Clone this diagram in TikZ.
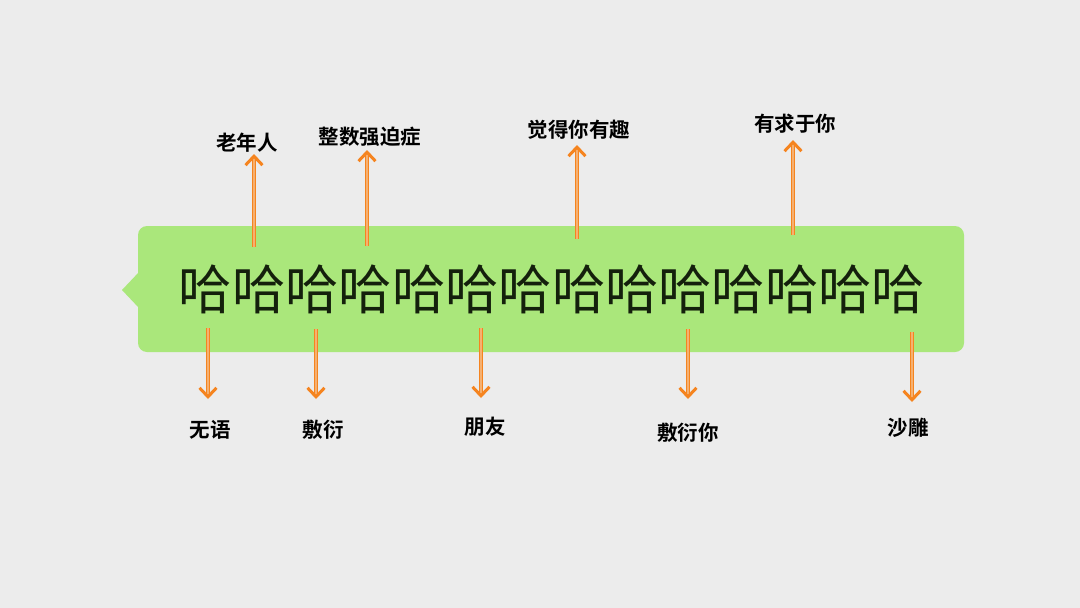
\documentclass[tikz,border=0pt]{standalone}
\usepackage{fontspec}
\newfontfamily\cjk{Noto Sans CJK SC}
\newfontfamily\cjkb{Noto Sans CJK SC Bold}
\usetikzlibrary{arrows.meta}
\definecolor{bg}{HTML}{ECECEC}
\definecolor{bubble}{HTML}{AAE77B}
\definecolor{arr}{HTML}{F5841F}
\definecolor{arrin}{HTML}{F6B070}
\definecolor{haha}{HTML}{14200C}
\tikzset{
  lab/.style={font=\cjkb\fontsize{20.5}{22}\selectfont, text=black, inner sep=0pt},
  arrowline/.style={draw=arr, double=arrin, double distance=1.4pt, line width=1pt,
    -{Straight Barb[length=9pt, width=17pt, line width=3pt]}},
  pt/.style={inner sep=0pt, minimum size=0pt}
}
\begin{document}
\begin{tikzpicture}[x=1pt,y=-1pt]
\useasboundingbox (0,0) rectangle (1080,608);
\fill[bg] (0,0) rectangle (1080,608);
% bubble
\fill[bubble, rounded corners=9pt] (138,226) rectangle (964,352);
\fill[bubble] (139,272) -- (122,290) -- (139,308) -- cycle;
\node[font=\cjk\fontsize{53.3}{55}\selectfont, text=haha, inner sep=0pt] (haha) at (552,289) {哈哈哈哈哈哈哈哈哈哈哈哈哈哈};
% up arrows
\coordinate (u1s) at (254,247); \coordinate (u1e) at (254,154);
\coordinate (u2s) at (367,246); \coordinate (u2e) at (367,150);
\coordinate (u3s) at (577,239); \coordinate (u3e) at (577,145);
\coordinate (u4s) at (793,235); \coordinate (u4e) at (793,140);
\draw[arrowline] (u1s) -- (u1e);
\draw[arrowline] (u2s) -- (u2e);
\draw[arrowline] (u3s) -- (u3e);
\draw[arrowline] (u4s) -- (u4e);
\node[lab] (l1) at (247,143) {老年人};
\node[lab] (l2) at (370,137) {整数强迫症};
\node[lab] (l3) at (579,130) {觉得你有趣};
\node[lab] (l4) at (795,124) {有求于你};
% down arrows
\coordinate (d1s) at (208,328); \coordinate (d1e) at (208,399);
\coordinate (d2s) at (316,329); \coordinate (d2e) at (316,399);
\coordinate (d3s) at (481,328); \coordinate (d3e) at (481,398);
\coordinate (d4s) at (688,329); \coordinate (d4e) at (688,399);
\coordinate (d5s) at (912,332); \coordinate (d5e) at (912,402);
\draw[arrowline] (d1s) -- (d1e);
\draw[arrowline] (d2s) -- (d2e);
\draw[arrowline] (d3s) -- (d3e);
\draw[arrowline] (d4s) -- (d4e);
\draw[arrowline] (d5s) -- (d5e);
\node[lab] (b1) at (210,430) {无语};
\node[lab] (b2) at (323,430) {敷衍};
\node[lab] (b3) at (485,427) {朋友};
\node[lab] (b4) at (688,433) {敷衍你};
\node[lab] (b5) at (908,428) {沙雕};
\end{tikzpicture}
\end{document}
